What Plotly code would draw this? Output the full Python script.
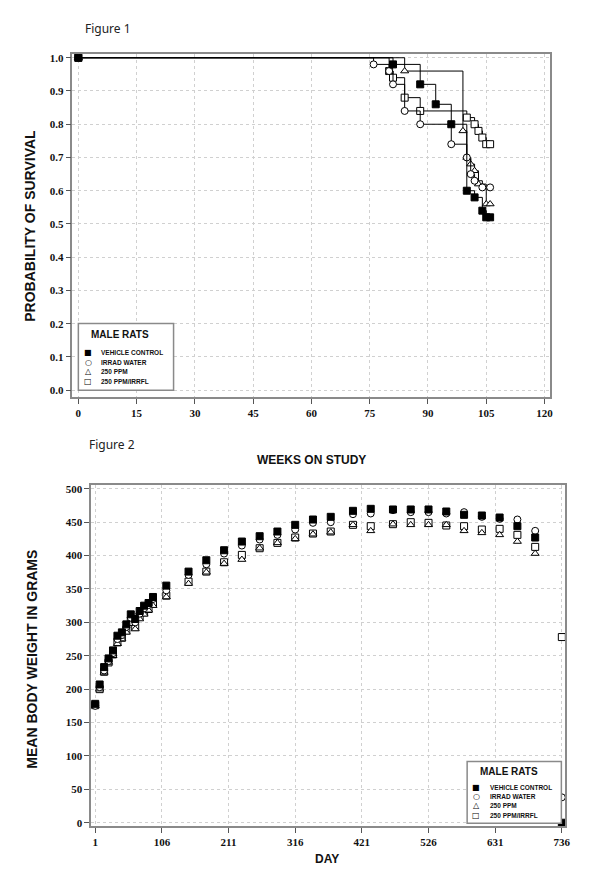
import plotly.graph_objects as go

W, H = 610, 871

# ---------------- Figure 1 data: Kaplan-Meier survival (weeks, probability)
vc_weeks = [0, 81, 88, 92, 96, 100, 102, 104, 105, 106]
vc_surv = [1.0, 0.98, 0.92, 0.86, 0.80, 0.60, 0.58, 0.54, 0.52, 0.52]

iw_weeks = [0, 76, 80, 81, 84, 88, 96, 100, 101, 102, 104, 106]
iw_surv = [1.0, 0.98, 0.96, 0.92, 0.84, 0.80, 0.74, 0.70, 0.65, 0.63, 0.61, 0.61]

p250_weeks = [0, 84, 99, 100, 101, 102, 103, 105, 106]
p250_surv = [1.0, 0.96, 0.78, 0.70, 0.68, 0.66, 0.62, 0.56, 0.56]

irr_weeks = [0, 80, 81, 84, 88, 100, 102, 103, 104, 105, 106]
irr_surv = [1.0, 0.96, 0.94, 0.88, 0.84, 0.82, 0.80, 0.78, 0.76, 0.74, 0.74]

weeks_ticks = [0, 15, 30, 45, 60, 75, 90, 105, 120]
surv_ticks = [0.0, 0.1, 0.2, 0.3, 0.4, 0.5, 0.6, 0.7, 0.8, 0.9, 1.0]

# ---------------- Figure 2 data: mean body weight (day, grams)
days = [1, 8, 15, 22, 29, 36, 43, 50, 57, 64, 71, 78, 85, 92, 113, 148, 176, 204,
        232, 260, 288, 316, 344, 372, 407, 435, 470, 498, 526, 554, 582, 610, 638,
        666, 694, 736]
vc_wt = [178, 207, 233, 246, 258, 280, 285, 297, 312, 305, 317, 325, 329, 338, 355,
         376, 393, 408, 421, 429, 436, 446, 454, 458, 467, 470, 469, 469, 469, 466,
         461, 460, 457, 444, 427, 0]
iw_wt = [175, 203, 228, 242, 254, 275, 281, 293, 307, 300, 313, 321, 326, 335, 348,
         371, 387, 403, 415, 424, 431, 439, 449, 450, 462, 463, 468, 465, 465, 463,
         465, 458, 455, 454, 437, 38]
p250_wt = [175, 200, 225, 240, 250, 268, 275, 285, 298, 290, 305, 312, 318, 325, 338,
           358, 375, 388, 394, 411, 419, 425, 432, 435, 446, 437, 447, 446, 446, 446,
           437, 434, 431, 421, 403, None]
irr_wt = [176, 200, 226, 240, 252, 270, 277, 288, 302, 293, 309, 315, 320, 328, 340,
          361, 376, 390, 401, 411, 419, 427, 433, 436, 446, 444, 447, 450, 449, 445,
          444, 439, 440, 431, 413, 278]

day_ticks = [1, 106, 211, 316, 421, 526, 631, 736]
wt_ticks = [0, 50, 100, 150, 200, 250, 300, 350, 400, 450, 500]

group_names = ["VEHICLE CONTROL", "IRRAD WATER", "250 PPM", "250 PPM/IRRFL"]
legend_glyphs = ["\u25A0", "\u25CB", "\u25B3", "\u25A1"]


def px(x):
    return x / W


def py(y):
    return 1 - y / H


fig = go.Figure()

open_marker = lambda sym, size: dict(symbol=sym, size=size, color="white",
                                      line=dict(color="black", width=1))
filled_marker = lambda size: dict(symbol="square", size=size, color="black",
                                  line=dict(color="black", width=1))

# Figure 1 traces (step curves)
surv_series = [
    (irr_weeks, irr_surv, open_marker("square", 7)),
    (p250_weeks, p250_surv, open_marker("triangle-up", 7)),
    (iw_weeks, iw_surv, open_marker("circle", 7)),
    (vc_weeks, vc_surv, filled_marker(7)),
]
for xs, ys, mk in surv_series:
    fig.add_trace(go.Scatter(x=xs, y=ys, mode="lines+markers", line_shape="hv",
                             line=dict(color="black", width=1), marker=mk,
                             showlegend=False, xaxis="x", yaxis="y",
                             cliponaxis=False))

# Figure 2 traces (scatter)
wt_series = [
    (irr_wt, open_marker("square", 7)),
    (p250_wt, open_marker("triangle-up", 7)),
    (iw_wt, open_marker("circle", 7)),
    (vc_wt, filled_marker(7)),
]
for ys, mk in wt_series:
    fig.add_trace(go.Scatter(x=days, y=ys, mode="markers", marker=mk,
                             showlegend=False, xaxis="x2", yaxis="y2",
                             cliponaxis=False))

tickfont = dict(family="Liberation Serif", size=11, color="#111", weight="bold")
axis_common = dict(showline=True, mirror=True, linecolor="#8a8a8a", linewidth=1.5,
                   ticks="outside", ticklen=5, tickcolor="#555", tickwidth=1,
                   showgrid=True, gridcolor="#d0d0d0", griddash="dot", gridwidth=1,
                   zeroline=False, tickfont=tickfont)

fig.update_layout(
    width=W, height=H, margin=dict(l=0, r=0, t=0, b=0),
    paper_bgcolor="white", plot_bgcolor="white", showlegend=False,
    xaxis=dict(domain=[px(73), px(555)], range=[-1.53, 121.53], anchor="y",
               tickvals=weeks_ticks, **axis_common),
    yaxis=dict(domain=[py(397), py(52)], range=[-0.021, 1.012], anchor="x",
               tickvals=surv_ticks, tickformat=".1f", **axis_common),
    xaxis2=dict(domain=[px(92), px(570)], range=[-5.25, 741.5], anchor="y2",
                tickvals=day_ticks, **axis_common),
    yaxis2=dict(domain=[py(828), py(485)], range=[-5.2, 506], anchor="x2",
                tickvals=wt_ticks, **axis_common),
)

shapes = []
annotations = []

title_font = dict(family="Liberation Sans", size=12, color="#111", weight="bold")
ytitle_font = dict(family="Liberation Sans", size=14, color="#111", weight="bold")
fig_font = dict(family="Noto Sans", size=12, color="#222")

annotations += [
    dict(text="Figure 1", x=px(84), y=py(27), xanchor="left", yanchor="middle",
         showarrow=False, font=fig_font, xref="paper", yref="paper"),
    dict(text="Figure 2", x=px(88), y=py(445), xanchor="left", yanchor="middle",
         showarrow=False, font=fig_font, xref="paper", yref="paper"),
    dict(text="WEEKS ON STUDY", x=px(314), y=py(460), xanchor="center", yanchor="middle",
         showarrow=False, font=title_font, xref="paper", yref="paper"),
    dict(text="DAY", x=px(330), y=py(861), xanchor="center", yanchor="middle",
         showarrow=False, font=title_font, xref="paper", yref="paper"),
    dict(text="PROBABILITY OF SURVIVAL", x=px(30), y=py(225), xanchor="center",
         yanchor="middle", textangle=-90, showarrow=False, font=ytitle_font,
         xref="paper", yref="paper"),
    dict(text="MEAN BODY WEIGHT IN GRAMS", x=px(32), y=py(660), xanchor="center",
         yanchor="middle", textangle=-90, showarrow=False, font=ytitle_font,
         xref="paper", yref="paper"),
]


def add_legend(x0, y0, x1, y1, title_y, sym_x, text_x, rows_y):
    shapes.append(dict(type="rect", xref="paper", yref="paper",
                       x0=px(x0), x1=px(x1), y0=py(y1), y1=py(y0),
                       line=dict(color="#8a8a8a", width=1.5), fillcolor="white",
                       layer="above"))
    annotations.append(dict(text="MALE RATS", x=px(text_x - 10), y=py(title_y),
                            xanchor="left", yanchor="middle", showarrow=False,
                            font=dict(family="Liberation Sans", size=10, color="#111",
                                      weight="bold"),
                            xref="paper", yref="paper"))
    for g, name, ry in zip(legend_glyphs, group_names, rows_y):
        annotations.append(dict(text=g, x=px(sym_x), y=py(ry), xanchor="center",
                                yanchor="middle", showarrow=False,
                                font=dict(family="DejaVu Sans", size=8, color="black"),
                                xref="paper", yref="paper"))
        annotations.append(dict(text=name, x=px(text_x), y=py(ry), xanchor="left",
                                yanchor="middle", showarrow=False,
                                font=dict(family="Liberation Sans", size=6.5,
                                          color="#111", weight="bold"),
                                xref="paper", yref="paper"))


add_legend(79, 323, 175, 390, 334, 89, 100, [352.5, 362, 371.5, 381])
add_legend(471, 763, 566, 825, 773, 480, 492, [789, 798, 807.5, 817])

fig.update_layout(shapes=shapes, annotations=annotations)

fig.write_html("out.html")
